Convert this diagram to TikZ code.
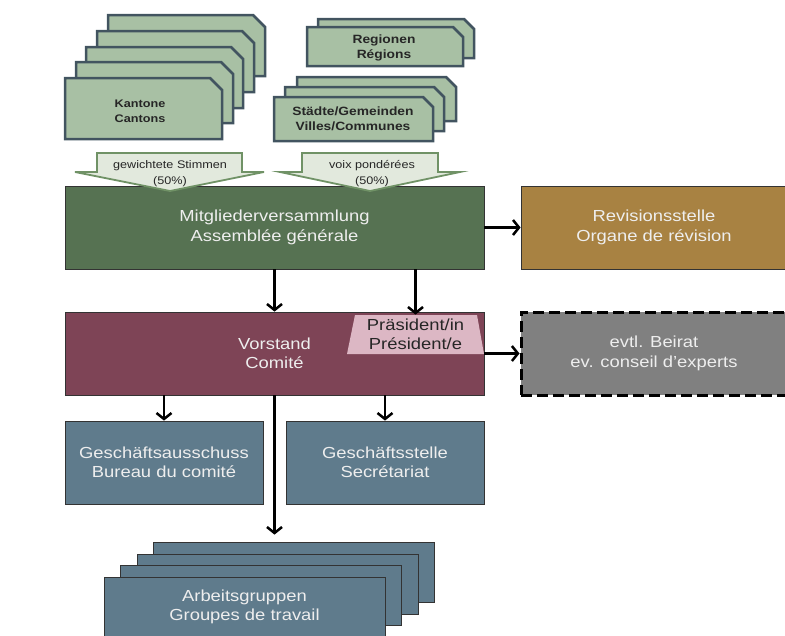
\documentclass[tikz,border=0pt]{standalone}
\usepackage{fontspec}
\setmainfont[FakeStretch=1.15]{Liberation Sans}
\usetikzlibrary{arrows.meta}

\definecolor{cardfill}{RGB}{168,192,164}
\definecolor{cardline}{RGB}{66,84,96}
\definecolor{votefill}{RGB}{226,233,221}
\definecolor{voteline}{RGB}{112,146,102}
\definecolor{mvgreen}{RGB}{86,114,82}
\definecolor{revbrown}{RGB}{168,130,66}
\definecolor{vorred}{RGB}{126,68,86}
\definecolor{presfill}{RGB}{220,183,196}
\definecolor{beiratgray}{RGB}{128,128,128}
\definecolor{agblue}{RGB}{95,123,140}
\definecolor{boxtext}{RGB}{238,238,238}

\begin{document}
\begin{tikzpicture}[x=1pt,y=-1pt,
		card/.style={draw=cardline,fill=cardfill,line width=2.5pt,line join=miter},
		cardtext/.style={font=\bfseries,text=black!85,align=center,inner sep=0pt},
		vote/.style={draw=voteline,fill=votefill,line width=1.8pt,line join=miter},
		votetext/.style={font=\fontsize{11}{16}\selectfont,text=black!85,align=center,inner sep=0pt},
		orgbox/.style={draw=black!80,line width=0.8pt,text=boxtext,align=center,
			font=\fontsize{16}{19.5}\selectfont,inner sep=0pt},
		agbox/.style={orgbox,fill=agblue,minimum width=281pt,minimum height=60pt},
		arr/.style={-{Straight Barb[length=6pt,width=15pt]},line width=2.5pt}]
		\useasboundingbox (0,0) rectangle (785,635);
		\clip (0,0) rectangle (785,635);

		% Kantone / Cantons
		\draw[card] (108,15) -- ++(145,0) -- ++(12,12) -- ++(0,49) -- ++(-157,0) -- cycle;
		\draw[card] (97,31) -- ++(145,0) -- ++(12,12) -- ++(0,49) -- ++(-157,0) -- cycle;
		\draw[card] (86,47) -- ++(145,0) -- ++(12,12) -- ++(0,49) -- ++(-157,0) -- cycle;
		\draw[card] (76,62) -- ++(145,0) -- ++(12,12) -- ++(0,49) -- ++(-157,0) -- cycle;
		\draw[card] (65,78) -- ++(145,0) -- ++(12,12) -- ++(0,49) -- ++(-157,0) -- cycle;
		\node[cardtext,font=\fontsize{11}{15}\selectfont\bfseries] (kant) at (140,111) {Kantone\\Cantons};

		% Regionen / Regions
		\draw[card] (318,19) -- ++(146,0) -- ++(10,10) -- ++(0,29) -- ++(-156,0) -- cycle;
		\draw[card] (307,27) -- ++(146,0) -- ++(10,10) -- ++(0,29) -- ++(-156,0) -- cycle;
		\node[cardtext,font=\fontsize{12}{15}\selectfont\bfseries] (reg) at (384,48) {Regionen\\Régions};

		% Staedte / Gemeinden
		\draw[card] (297,77) -- ++(149,0) -- ++(10,10) -- ++(0,34) -- ++(-159,0) -- cycle;
		\draw[card] (285,87) -- ++(149,0) -- ++(10,10) -- ++(0,34) -- ++(-159,0) -- cycle;
		\draw[card] (274,97) -- ++(149,0) -- ++(10,10) -- ++(0,34) -- ++(-159,0) -- cycle;
		\node[cardtext,font=\fontsize{12}{15}\selectfont\bfseries] (staedte) at (353,119) {Städte/Gemeinden\\Villes/Communes};

		% main boxes
		\node[orgbox,fill=mvgreen,minimum width=419pt,minimum height=83pt] (mv) at (274.5,227.5) {Mitgliederversammlung\\Assemblée générale};
		\node[orgbox,fill=revbrown,minimum width=266pt,minimum height=83pt] (rev) at (654,227.5) {Revisionsstelle\\Organe de révision};

		\node[orgbox,fill=vorred,minimum width=419pt,minimum height=83pt] (vor) at (274.5,353.5) {Vorstand\\Comité};
		\fill[presfill] (347,354) -- (355,315) -- (477,315) -- (484,354) -- cycle;
		\node[orgbox,draw=none,text=black!85,minimum height=39pt] (pres) at (415.5,334.5) {Präsident/in\\Président/e};
		\node[orgbox,fill=beiratgray,draw=black,line width=3pt,dash pattern=on 11pt off 5pt,minimum width=266pt,minimum height=83pt] (beirat) at (654,353.5) {evtl. Beirat\\ev. conseil d’experts};

		\node[orgbox,fill=agblue,minimum width=198pt,minimum height=83pt] (ga) at (164,462.5) {Geschäftsausschuss\\Bureau du comité};
		\node[orgbox,fill=agblue,minimum width=198pt,minimum height=83pt] (gs) at (385,462.5) {Geschäftsstelle\\Secrétariat};

		% Arbeitsgruppen
		\node[agbox] (ag4) at (293.5,572) {};
		\node[agbox] (ag3) at (277.5,584) {};
		\node[agbox] (ag2) at (260.5,595) {};
		\node[agbox] (ag1) at (244.5,607) {Arbeitsgruppen\\Groupes de travail};

		% weighted votes
		\draw[vote] (97,153) -- (242,153) -- (242,172) -- (264,172) -- (170,191) -- (75,172) -- (97,172) -- cycle;
		\draw[vote] (302,153) -- (438,153) -- (438,172) -- (460,172) -- (370,191) -- (280,172) -- (302,172) -- cycle;
		\node[votetext] (vote1) at (170,174) {gewichtete Stimmen\\(50\%)};
		\node[votetext] (vote2) at (372,174) {voix pondérées\\(50\%)};

		% connectors
		\draw[arr] (mv.east) -- (rev.west);
		\draw[arr] (mv.south) -- (vor.north);
		\draw[arr] (mv.south -| pres.north) -- (pres.north);
		\draw[arr] (vor.east) -- (beirat.west);
		\draw[arr] (vor.south -| ga.north) -- (ga.north);
		\draw[arr] (vor.south -| gs.north) -- (gs.north);
		\draw[arr,shorten >=7pt] (vor.south) -- (vor.south |- ag4.north);
	\end{tikzpicture}
\end{document}
